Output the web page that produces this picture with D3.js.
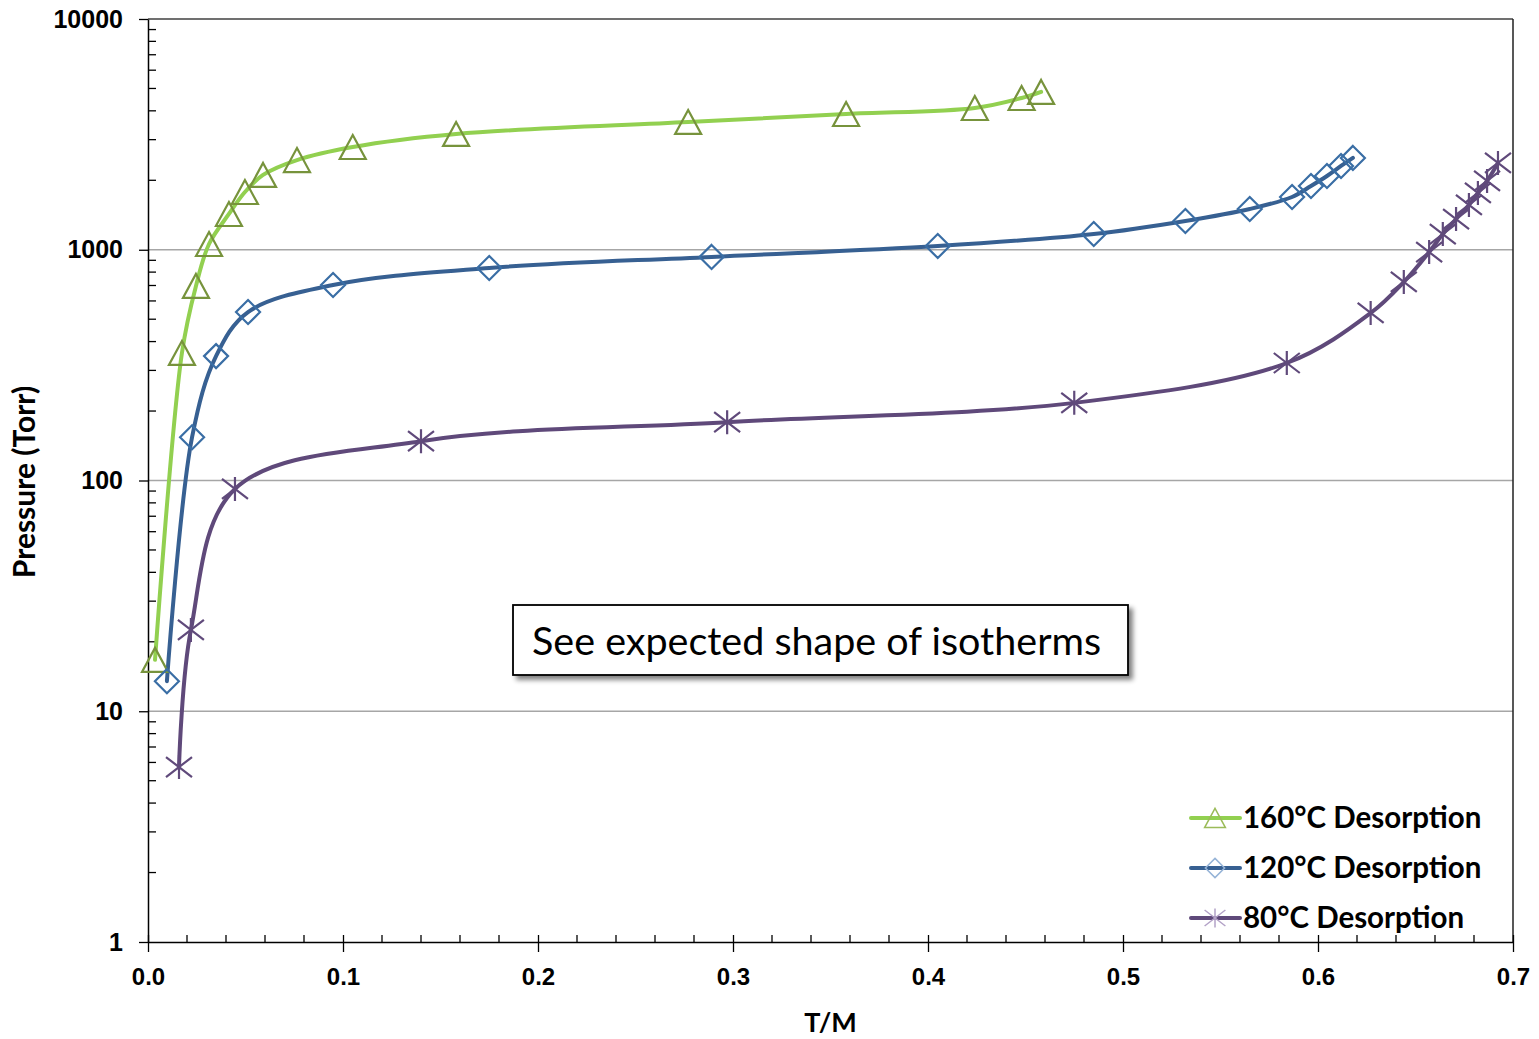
<!DOCTYPE html>
<html>
<head>
<meta charset="utf-8">
<script src="https://cdn.jsdelivr.net/npm/d3@7"></script>
<style>
  html, body { margin: 0; padding: 0; background: #fff; }
  svg { display: block; }
</style>
</head>
<body>
<svg id="chart" width="1539" height="1039"></svg>
<script>
// ---------------- DATA ----------------
const seriesNames = ["160°C Desorption", "120°C Desorption", "80°C Desorption"];

const tm160 = [0.0036, 0.0174, 0.0246, 0.0313, 0.0415, 0.0497, 0.059, 0.0764, 0.105, 0.158, 0.277, 0.358, 0.424, 0.448, 0.458];
const p160  = [16.7, 357, 697, 1059, 1429, 1779, 2110, 2448, 2788, 3175, 3580, 3875, 4115, 4545, 4830];

const tm120 = [0.0097, 0.0226, 0.0349, 0.0513, 0.0949, 0.175, 0.289, 0.405, 0.485, 0.532, 0.565, 0.5867, 0.5964, 0.6046, 0.6118, 0.6179];
const p120  = [13.5, 154, 346, 537, 703, 834, 931, 1038, 1170, 1333, 1502, 1693, 1890, 2088, 2307, 2500];

const tm80 = [0.0159, 0.022, 0.0446, 0.140, 0.297, 0.475, 0.584, 0.627, 0.644, 0.657, 0.664, 0.6708, 0.6774, 0.682, 0.6867, 0.6923];
const p80  = [5.73, 22.5, 91.9, 148, 179, 217, 323, 532, 725, 977, 1170, 1359, 1563, 1762, 1986, 2377];

const xTickLabels = ["0.0", "0.1", "0.2", "0.3", "0.4", "0.5", "0.6", "0.7"];
const yTickLabels = ["1", "10", "100", "1000", "10000"];
const annotationText = "See expected shape of isotherms";
const xTitle = "T/M";
const yTitle = "Pressure (Torr)";

// ---------------- LAYOUT ----------------
const svg = d3.select("#chart");
const L = 148, R = 1513, T = 19, B = 942;

const x = d3.scaleLinear().domain([0, 0.7]).range([L, R]);
const y = d3.scaleLog().domain([1, 10000]).range([B, T]);

const styles = [
  { line: "#92D050", marker: "#77933C", legendMarker: "#9BBB59", shape: "triangle" },
  { line: "#376092", marker: "#3A6EA5", legendMarker: "#95B3D7", shape: "diamond" },
  { line: "#5F497A", marker: "#604A7B", legendMarker: "#B3A2C7", shape: "star" }
];

const data = [
  tm160.map((v, i) => [v, p160[i]]),
  tm120.map((v, i) => [v, p120[i]]),
  tm80.map((v, i) => [v, p80[i]])
];

// gridlines
const g = svg.append("g");
g.selectAll("line.grid")
  .data([10, 100, 1000])
  .join("line")
  .attr("x1", L).attr("x2", R)
  .attr("y1", d => y(d)).attr("y2", d => y(d))
  .attr("stroke", "#A6A6A6").attr("stroke-width", 1.3);

// plot border (top & right)
g.append("line").attr("x1", L).attr("x2", R).attr("y1", T).attr("y2", T).attr("stroke", "#404040").attr("stroke-width", 1.3);
g.append("line").attr("x1", R).attr("x2", R).attr("y1", T).attr("y2", B).attr("stroke", "#202020").attr("stroke-width", 1.5);

// Y axis
const yAxis = d3.axisLeft(y)
  .tickValues([1, 10, 100, 1000, 10000])
  .tickFormat((d, i) => yTickLabels[i])
  .tickSizeInner(9).tickSizeOuter(0).tickPadding(16);
const ya = svg.append("g").attr("transform", `translate(${L},0)`).call(yAxis);
ya.select(".domain").attr("stroke", "#000").attr("stroke-width", 1.5);
ya.selectAll(".tick line").attr("stroke", "#000").attr("stroke-width", 1.3);
ya.selectAll(".tick text")
  .attr("font-family", "Liberation Sans, Arial, sans-serif")
  .attr("font-weight", "bold").attr("font-size", 25).attr("fill", "#000");

// y minor ticks (inside)
const yMinor = [];
for (let dec = 1; dec < 10000; dec *= 10) for (let k = 2; k <= 9; k++) yMinor.push(dec * k);
svg.append("g").selectAll("line")
  .data(yMinor).join("line")
  .attr("x1", L).attr("x2", L + 8)
  .attr("y1", d => y(d)).attr("y2", d => y(d))
  .attr("stroke", "#000").attr("stroke-width", 1.3);

// X axis
const xAxis = d3.axisBottom(x)
  .tickValues([0, 0.1, 0.2, 0.3, 0.4, 0.5, 0.6, 0.7])
  .tickFormat((d, i) => xTickLabels[i])
  .tickSizeInner(10).tickSizeOuter(0).tickPadding(16);
const xa = svg.append("g").attr("transform", `translate(0,${B})`).call(xAxis);
xa.select(".domain").attr("stroke", "#000").attr("stroke-width", 1.5);
xa.selectAll(".tick line").attr("stroke", "#000").attr("stroke-width", 1.3).attr("y1", -7);
xa.selectAll(".tick text")
  .attr("font-family", "Liberation Sans, Arial, sans-serif")
  .attr("font-weight", "bold").attr("font-size", 24).attr("fill", "#000");

// x minor ticks (inside)
const xMinor = d3.range(1, 35).map(i => i * 0.02).filter(v => Math.abs(v * 10 - Math.round(v * 10)) > 1e-6);
svg.append("g").selectAll("line")
  .data(xMinor).join("line")
  .attr("x1", d => x(d)).attr("x2", d => x(d))
  .attr("y1", B - 7).attr("y2", B)
  .attr("stroke", "#000").attr("stroke-width", 1.3);

// Axis titles
svg.append("text")
  .attr("x", (L + R) / 2).attr("y", 1032)
  .attr("text-anchor", "middle")
  .attr("font-family", "Lato, Open Sans, sans-serif").attr("font-weight", "bold").attr("font-size", 27)
  .attr("fill", "#000").text(xTitle);
svg.append("text")
  .attr("transform", `translate(35,482) rotate(-90)`)
  .attr("text-anchor", "middle")
  .attr("font-family", "Lato, Open Sans, sans-serif").attr("font-weight", "bold").attr("font-size", 30)
  .attr("fill", "#000").text(yTitle);

// marker path generators
function markerPath(shape, s) {
  if (shape === "triangle") {
    return `M0,${-12 * s}L${13 * s},${12 * s}L${-13 * s},${12 * s}Z`;
  } else if (shape === "diamond") {
    return `M0,${-12 * s}L${12 * s},0L0,${12 * s}L${-12 * s},0Z`;
  } else {
    return `M0,${-12 * s}L0,${12 * s}M${-13 * s},${-10 * s}L${13 * s},${10 * s}M${-13 * s},${10 * s}L${13 * s},${-10 * s}`;
  }
}

// series lines
const line = d3.line()
  .x(d => x(d[0])).y(d => y(d[1]))
  .curve(d3.curveCatmullRom.alpha(0.5));

data.forEach((pts, i) => {
  const st = styles[i];
  svg.append("path")
    .datum(pts)
    .attr("d", line)
    .attr("fill", "none")
    .attr("stroke", st.line)
    .attr("stroke-width", 4)
    .attr("stroke-linecap", "round");
});
data.forEach((pts, i) => {
  const st = styles[i];
  svg.append("g").selectAll("path")
    .data(pts).join("path")
    .attr("transform", d => `translate(${x(d[0])},${y(d[1])})`)
    .attr("d", markerPath(st.shape, 1))
    .attr("fill", "none")
    .attr("stroke", st.marker)
    .attr("stroke-width", 2.2);
});

// Annotation box with shadow
const defs = svg.append("defs");
const filt = defs.append("filter").attr("id", "shadow").attr("x", "-10%").attr("y", "-30%").attr("width", "130%").attr("height", "180%");
filt.append("feGaussianBlur").attr("in", "SourceAlpha").attr("stdDeviation", 2.5);
filt.append("feOffset").attr("dx", 4).attr("dy", 4).attr("result", "ob");
filt.append("feComponentTransfer").append("feFuncA").attr("type", "linear").attr("slope", 0.5);
const fm = filt.append("feMerge");
fm.append("feMergeNode");
fm.append("feMergeNode").attr("in", "SourceGraphic");

svg.append("rect")
  .attr("x", 513).attr("y", 605).attr("width", 615).attr("height", 70)
  .attr("fill", "#fff").attr("stroke", "#000").attr("stroke-width", 1.8)
  .attr("filter", "url(#shadow)");
svg.append("text")
  .attr("x", 532).attr("y", 655)
  .attr("font-family", "Lato, Open Sans, sans-serif").attr("font-size", 39.5)
  .attr("fill", "#000").text(annotationText);

// Legend
const legY = [818, 868, 918];
seriesNames.forEach((name, i) => {
  const st = styles[i];
  const lg = svg.append("g").attr("transform", `translate(0,${legY[i]})`);
  lg.append("line").attr("x1", 1191).attr("x2", 1240).attr("y1", 0).attr("y2", 0)
    .attr("stroke", st.line).attr("stroke-width", 4).attr("stroke-linecap", "round");
  lg.append("path").attr("transform", "translate(1215,0)")
    .attr("d", markerPath(st.shape, 0.8))
    .attr("fill", "none").attr("stroke", st.legendMarker).attr("stroke-width", 1.5);
  lg.append("text").attr("x", 1243).attr("y", 10)
    .attr("font-family", "Lato, Open Sans, sans-serif").attr("font-weight", "bold").attr("font-size", 29.5)
    .attr("fill", "#000").text(name);
});
</script>
</body>
</html>
